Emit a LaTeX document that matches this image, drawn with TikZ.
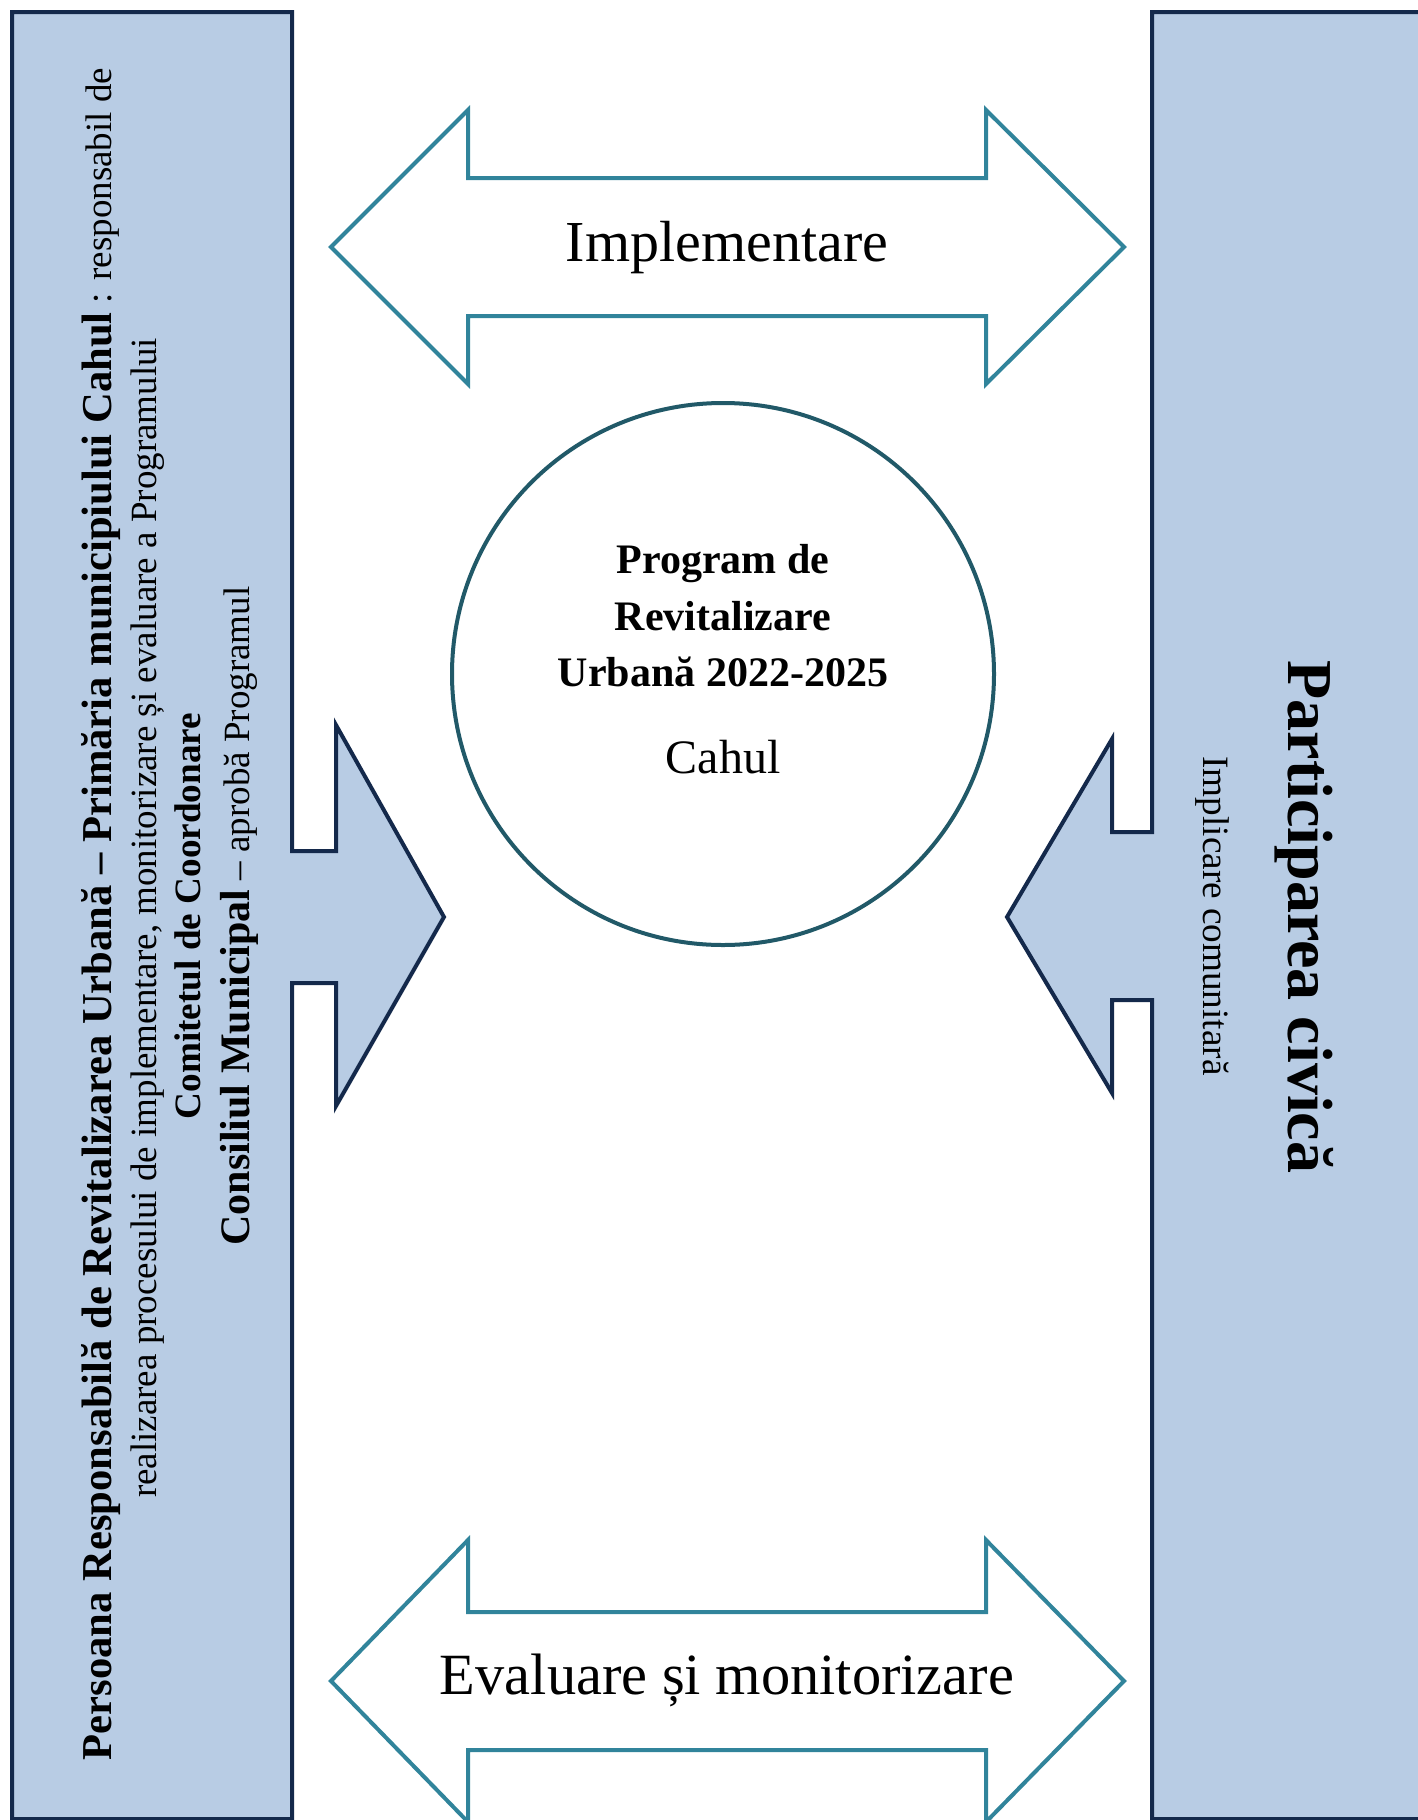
\documentclass[tikz,border=0pt]{standalone}
\usepackage{fontspec}
\setmainfont{Liberation Serif}
\usetikzlibrary{shapes}

\definecolor{panelfill}{HTML}{B8CCE4}
\definecolor{panelline}{HTML}{14294B}
\definecolor{flowline}{HTML}{31849B}
\definecolor{ringline}{HTML}{215968}

\begin{document}
\begin{tikzpicture}[x=0.5pt,y=0.5pt,line join=miter,
                    panel/.style={draw=panelline,fill=panelfill,line width=2pt},
                    flow/.style={draw=flowline,fill=white,line width=2pt},
                    txt/.style={inner sep=0pt,text=black,anchor=base}]

  \useasboundingbox (0,0) rectangle (1418,-1820);
  \clip (0,0) rectangle (1418,-1820);

  % side panels with their arrows
  \draw[panel] (12,-1819) -- (12,-12) -- (292,-12) -- (292,-851) -- (336,-851)
               -- (336,-725) -- (444,-917) -- (336,-1106) -- (336,-983)
               -- (292,-983) -- (292,-1819) -- cycle;
  \draw[panel] (1450,-12) -- (1152,-12) -- (1152,-832) -- (1112,-832)
               -- (1112,-739) -- (1007,-917) -- (1112,-1093) -- (1112,-1000)
               -- (1152,-1000) -- (1152,-1819) -- (1450,-1819) -- cycle;

  % double arrows
  \foreach \cy/\hh in {247/137,1681/141}
    \draw[flow] (331,-\cy) -- (468,-\cy+\hh) -- (468,-\cy+69) -- (986,-\cy+69)
                -- (986,-\cy+\hh) -- (1124,-\cy) -- (986,-\cy-\hh) -- (986,-\cy-69)
                -- (468,-\cy-69) -- (468,-\cy-\hh) -- cycle;

  \node[txt,font=\fontsize{29}{34}\selectfont] (impl) at (727,-261) {Implementare};
  \node[txt,font=\fontsize{29.2}{34}\selectfont] (eval) at (727,-1694) {Evaluare și monitorizare};

  % programme
  \node[circle,draw=ringline,line width=2pt,fill=white,minimum size=271pt] (prog) at (723,-674) {};
  \node[txt,font=\bfseries\fontsize{21}{28}\selectfont] (prog1) at (723,-573) {Program de};
  \node[txt,font=\bfseries\fontsize{21}{28}\selectfont] (prog2) at (723,-630) {Revitalizare};
  \node[txt,font=\bfseries\fontsize{21}{28}\selectfont] (prog3) at (723,-686) {Urbană 2022-2025};
  \node[txt,font=\fontsize{24}{28}\selectfont] (city) at (723,-773) {Cahul};

  % left panel text
  \node[txt,rotate=90] (resp1) at (111,-914)
    {\fontsize{21.3}{25}\selectfont\bfseries Persoana Responsabilă de Revitalizarea Urbană – Primăria municipiului Cahul\mdseries\fontsize{18.5}{22}\selectfont{} : responsabil de};
  \node[txt,rotate=90,font=\fontsize{18.5}{22}\selectfont] (resp2) at (156,-918)
    {realizarea procesului de implementare, monitorizare și evaluare a Programului};
  \node[txt,rotate=90,font=\bfseries\fontsize{18.6}{22}\selectfont] (comit) at (200,-916)
    {Comitetul de Coordonare};
  \node[txt,rotate=90] (consil) at (249,-916)
    {\fontsize{21}{24}\selectfont\bfseries Consiliul Municipal\mdseries\fontsize{18.5}{22}\selectfont{} – aprobă Programul};

  % right panel text
  \node[txt,rotate=-90,font=\bfseries\fontsize{32}{38}\selectfont] (civic) at (1288,-917) {Participarea civică};
  \node[txt,rotate=-90,font=\fontsize{18.6}{22}\selectfont] (comm) at (1203,-916) {Implicare comunitară};

\end{tikzpicture}
\end{document}
